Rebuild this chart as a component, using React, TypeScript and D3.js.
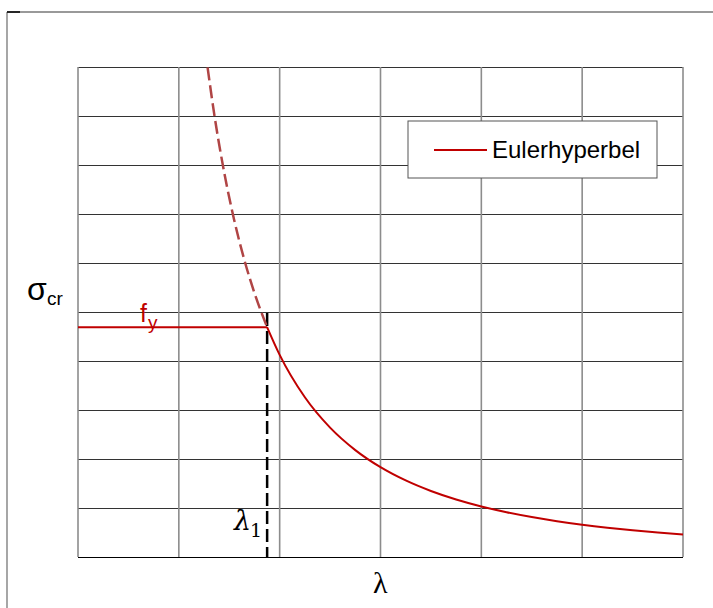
import React from 'react';
import * as d3 from 'd3';

// slenderness axis 0..6, stress axis 0..10 (arbitrary units)
const xTicks = [0, 1, 2, 3, 4, 5, 6];
const yTicks = [0, 1, 2, 3, 4, 5, 6, 7, 8, 9, 10];
const eulerConst = [16.5];
const yieldStress = [4.69];
const lambdaSolid = [1.875, 2, 2.25, 2.5, 2.75, 3, 3.25, 3.5, 3.75, 4, 4.25, 4.5, 4.75, 5, 5.25, 5.5, 5.75, 6];
const lambdaDashed = [1.285, 1.35, 1.45, 1.55, 1.65, 1.75, 1.875];
const dashTop = [5.0];

const W = 713;
const H = 608;

export default function App() {
  const C = eulerConst[0];
  const fy = yieldStress[0];
  const lambda1 = Math.sqrt(C / fy);

  const x = d3.scaleLinear().domain([0, 6]).range([78, 683]);
  const y = d3.scaleLinear().domain([0, 10]).range([557, 67]);

  const line = d3.line<number>()
    .x(d => x(d))
    .y(d => y(C / (d * d)))
    .curve(d3.curveMonotoneX);

  return (
    <svg width={W} height={H} style={{ position: 'absolute', left: 0, top: 0 }}
      fontFamily="'Liberation Sans', Arial, sans-serif">
      <rect width={W} height={H} fill="white" />
      {/* outer frame */}
      <line x1={7} y1={12} x2={713} y2={12} stroke="#777" strokeWidth={1.3} />
      <line x1={7} y1={12} x2={7} y2={608} stroke="#777" strokeWidth={1.3} />
      <line x1={7} y1={12} x2={20} y2={12} stroke="#000" strokeWidth={1.5} />

      {/* horizontal grid */}
      {yTicks.map(t => (
        <line key={'h' + t} x1={x(0)} x2={x(6)} y1={Math.round(y(t)) + 0.5} y2={Math.round(y(t)) + 0.5}
          stroke={t === 0 ? '#000' : '#333'} strokeWidth={1.2} />
      ))}
      {/* vertical grid */}
      {xTicks.map(t => (
        <line key={'v' + t} x1={x(t)} x2={x(t)} y1={y(10)} y2={y(0)}
          stroke="#8c8c8c" strokeWidth={1.6} />
      ))}

      {/* yield plateau */}
      <line x1={x(0)} x2={x(lambda1)} y1={y(fy)} y2={y(fy)} stroke="#c00000" strokeWidth={2} />
      {/* lambda1 marker */}
      <line x1={x(lambda1)} x2={x(lambda1)} y1={y(dashTop[0]) + 1} y2={y(0)}
        stroke="#000" strokeWidth={2.5} strokeDasharray="13,5" />

      {/* Euler hyperbola */}
      <path d={line(lambdaDashed) || ''} fill="none" stroke="#b04545" strokeWidth={2.5} strokeDasharray="13,5" />
      <path d={line(lambdaSolid) || ''} fill="none" stroke="#c00000" strokeWidth={2} />

      {/* labels */}
      <text x={27} y={300} fontSize={32}>σ</text>
      <text x={47} y={305} fontSize={19}>cr</text>
      <text x={140} y={322} fontSize={25} fill="#c00000">f</text>
      <text x={148} y={329} fontSize={19} fill="#c00000">y</text>
      <text x={234} y={530} fontSize={27} fontFamily="'DejaVu Serif', serif" fontStyle="italic">λ</text>
      <text x={250} y={537} fontSize={19} fontFamily="'DejaVu Serif', serif">1</text>
      <text x={373} y={593} fontSize={30} fontFamily="'Liberation Serif', serif">λ</text>

      {/* legend */}
      <rect x={408} y={121} width={249} height={57} fill="white" stroke="#555" strokeWidth={1} />
      <line x1={434} x2={487} y1={150} y2={150} stroke="#c00000" strokeWidth={2} />
      <text x={492} y={158} fontSize={24}>Eulerhyperbel</text>
    </svg>
  );
}
